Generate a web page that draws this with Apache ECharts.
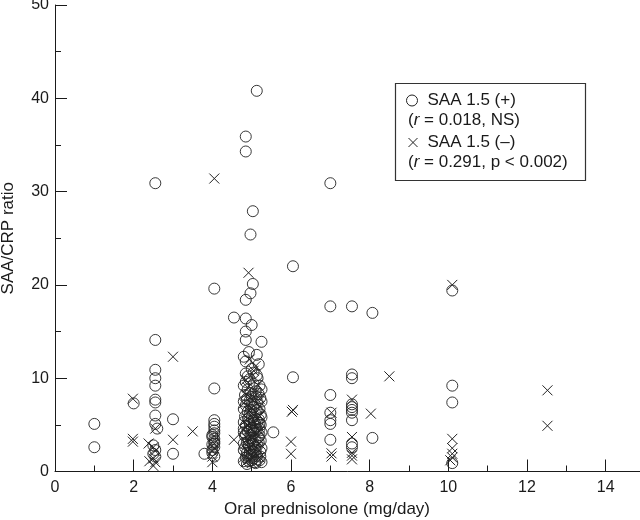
<!DOCTYPE html>
<html>
<head>
<meta charset="utf-8">
<script src="https://cdn.jsdelivr.net/npm/echarts@6/dist/echarts.min.js"></script>
<style>html,body{margin:0;padding:0;background:#fff}#c{width:640px;height:520px}</style>
</head>
<body>
<div id="c"></div>
<script>
// SAA 1.5 (+) points: [oral prednisolone mg/day, SAA/CRP ratio]
var saaPos = [
  [1.0,5.1],[1.0,2.6],[2.0,7.3],
  [2.55,30.9],[2.55,14.1],[2.55,10.9],[2.55,10.0],[2.55,9.2],[2.55,7.7],[2.55,7.4],[2.55,6.0],[2.55,5.1],[2.6,4.6],[2.5,2.8],[2.55,2.3],[2.5,1.9],[2.55,1.6],
  [3.0,5.6],[3.0,1.9],[3.8,1.9],
  [4.05,19.6],[4.05,8.9],[4.05,5.5],[4.05,5.1],[4.05,4.8],[4.05,4.4],[4.0,3.9],[4.05,3.5],[4.05,3.2],[4.0,2.9],[4.05,2.6],[4.0,2.3],
  [4.05,4.1],[4.0,3.7],[4.05,3.0],[4.0,2.0],[4.05,1.6],
  [4.55,16.5],
  [5.13,40.8],[4.85,35.9],[4.85,34.3],[5.03,27.9],[4.97,25.4],[5.03,20.1],[4.97,19.1],[4.85,18.4],[4.85,16.4],[5.0,15.7],[4.85,15.0],[4.85,14.1],[5.25,13.9],[4.93,12.8],[5.13,12.5],[4.85,11.8],[5.0,11.0],[5.13,10.3],[4.9,10.2],
  [4.85,9.6],[5.05,9.4],[5.2,9.2],[4.9,8.8],[5.1,8.6],[4.83,8.2],[5.0,8.0],[5.22,7.9],[4.95,7.6],[5.15,7.4],[4.85,7.1],[5.05,6.9],[5.2,6.7],[4.9,6.4],[5.1,6.2],[4.83,5.9],[5.0,5.8],[5.18,5.6],[4.93,5.4],[5.08,5.2],[5.23,5.0],[4.85,4.9],[5.0,4.7],[5.13,4.5],[4.9,4.3],[5.05,4.1],[5.2,3.9],[4.83,3.8],[4.98,3.6],[5.1,3.4],[5.23,3.3],[4.88,3.1],[5.03,2.9],[5.15,2.8],[4.83,2.6],[4.95,2.4],[5.1,2.3],[5.22,2.1],[4.88,2.0],[5.0,1.8],[5.13,1.7],[4.85,1.5],[5.05,1.4],[5.2,1.2],[4.93,1.1],[5.1,0.9],
  [4.95,9.9],[5.18,8.3],[4.88,7.8],[5.08,7.2],[4.98,6.6],[5.23,6.1],[4.9,5.6],[5.15,5.3],[4.95,5.1],[5.05,4.4],[4.85,4.0],[5.18,3.7],[4.93,3.3],[5.08,2.6],[4.9,1.7],[5.15,1.3],
  [4.8,9.2],[5.25,8.8],[4.97,8.4],[5.12,8.0],[4.8,7.5],[5.25,7.5],[5.0,7.2],[4.8,6.7],[5.13,6.6],[4.95,6.2],[5.25,5.8],[4.8,5.3],[5.05,5.5],[5.2,5.2],[4.8,4.6],[4.95,4.5],[5.2,4.6],[5.1,4.8],[4.8,4.2],[4.97,3.9],[5.25,4.2],[5.03,3.2],[4.8,3.0],[5.18,3.1],[4.93,2.8],[5.25,2.5],[4.8,2.3],[5.05,2.1],[4.95,1.9],[5.22,1.6],[4.8,1.1],[5.0,1.2],[5.25,1.0],[5.08,1.0],[4.88,0.8],[5.15,10.0],[4.85,10.5],[5.05,10.6],[4.8,12.3],[5.18,11.5],
  [5.55,4.2],
  [6.05,22.0],[6.05,10.1],
  [7.0,30.9],[7.0,17.7],[7.0,8.2],[7.0,6.3],[7.0,5.5],[7.0,5.1],[7.0,3.4],
  [7.55,17.7],[7.55,10.4],[7.55,10.0],[7.55,7.2],[7.55,6.9],[7.55,6.6],[7.55,6.3],[7.55,5.5],[7.55,3.0],[7.55,2.6],
  [8.07,17.0],[8.07,3.6],
  [10.1,19.4],[10.1,9.2],[10.1,7.4],[10.1,0.9]
];
// SAA 1.5 (-) points
var saaNeg = [
  [1.98,7.8],[1.98,3.5],[1.98,3.2],[2.38,3.0],[2.4,1.1],[2.55,4.6],[2.5,2.6],[2.55,2.2],[2.5,1.4],[2.55,1.0],[2.5,0.6],
  [3.0,12.3],[3.0,3.4],[3.5,4.3],
  [4.05,31.4],[4.0,1.6],[4.0,1.0],[4.05,3.0],[4.05,2.5],[4.0,2.2],[4.05,3.8],
  [4.55,3.4],
  [4.92,21.3],[4.8,1.5],[5.0,0.9],[4.9,9.0],[5.1,8.5],[4.85,8.3],[5.0,7.8],[5.2,7.0],[4.93,6.5],[5.05,6.0],[4.85,5.5],[5.15,5.0],[4.98,4.6],[5.1,4.0],[4.9,3.5],[5.2,3.0],[5.0,2.7],[4.88,2.2],[5.1,1.9],[4.95,1.3],[5.05,10.8],[4.95,12.0],
  [4.85,9.8],[5.15,9.3],[5.2,7.8],[4.8,7.3],[5.0,6.8],[5.2,6.0],[4.9,5.0],[5.05,5.2],[4.8,4.5],[5.2,4.3],[5.0,3.6],[4.85,3.0],[5.15,2.4],[4.95,2.0],[5.2,1.5],[4.85,1.0],[5.1,11.3],
  [6.05,6.6],[6.02,6.4],[6.0,3.2],[6.0,1.9],
  [7.03,6.3],[7.03,1.95],[7.03,1.6],
  [7.55,7.7],[7.55,3.7],[7.55,2.0],[7.55,1.7],[7.55,1.3],
  [8.03,6.2],[8.5,10.2],
  [10.1,20.0],[10.1,3.5],[10.1,2.5],[10.1,1.9],[10.1,1.5],[10.05,1.2],
  [12.52,8.7],[12.52,4.9]
];
var seriesNames = ['SAA 1.5 (+)', 'SAA 1.5 (\u2013)'];
var statLines = ['({i|r} = 0.018, NS)', '({i|r} = 0.291, p < 0.002)'];
var xTitle = 'Oral prednisolone (mg/day)';
var yTitle = 'SAA/CRP ratio';

var FONT = '"Liberation Sans", Arial, Helvetica, sans-serif';
var INK = '#1a1a1a';
var chart = echarts.init(document.getElementById('c'));
chart.setOption({
  animation: false,
  backgroundColor: '#fff',
  grid: { left: 55, top: 5, width: 590, height: 466.5, containLabel: false, outerBoundsMode: 'none' },
  xAxis: [{
    type: 'value', position: 'bottom', min: 0, max: 15, interval: 2,
    name: xTitle, nameLocation: 'middle', nameGap: 29,
    nameTextStyle: { fontFamily: FONT, fontSize: 17, color: INK, padding: [0, 46, 0, 0] },
    axisLine: { show: true, lineStyle: { color: INK, width: 1 } },
    axisTick: { show: true, inside: true, length: 12, lineStyle: { color: INK, width: 1 } },
    axisLabel: { fontFamily: FONT, fontSize: 16, color: INK, margin: 8, showMaxLabel: false },
    splitLine: { show: false }
  }, {
    type: 'value', position: 'bottom', min: 0, max: 15, interval: 1,
    axisLine: { show: false },
    axisTick: { show: true, inside: true, length: 6, lineStyle: { color: INK, width: 1 } },
    axisLabel: { show: false },
    splitLine: { show: false }
  }],
  yAxis: {
    type: 'value', min: 0, max: 50, interval: 10,
    name: yTitle, nameLocation: 'middle', nameGap: 38,
    nameTextStyle: { fontFamily: FONT, fontSize: 17, color: INK },
    axisLine: { show: true, lineStyle: { color: INK, width: 1 } },
    axisTick: { show: true, inside: true, length: 12, lineStyle: { color: INK, width: 1 } },
    minorTick: { show: true, splitNumber: 2, length: 6, lineStyle: { color: INK, width: 1 } },
    axisLabel: { fontFamily: FONT, fontSize: 16, color: INK, margin: 6 },
    splitLine: { show: false }, minorSplitLine: { show: false }
  },
  legend: [{
    data: [seriesNames[0]], left: 406, top: 92, padding: 0, selectedMode: false,
    itemWidth: 11, itemHeight: 11,
    itemStyle: { borderWidth: 1 },
    textStyle: { fontFamily: FONT, fontSize: 17, color: INK, padding: [0, 0, 0, 5] }
  }, {
    data: [seriesNames[1]], left: 408, top: 134, padding: 0, selectedMode: false,
    itemWidth: 9, itemHeight: 9,
    itemStyle: { borderWidth: 1 },
    textStyle: { fontFamily: FONT, fontSize: 17, color: INK, padding: [0, 0, 0, 5] }
  }],
  graphic: [
    { type: 'rect', z: 1, shape: { x: 395.5, y: 83.5, width: 190, height: 97 },
      style: { fill: 'none', stroke: '#333', lineWidth: 1.2 } },
    { type: 'text', z: 2, x: 408, y: 120,
      style: { text: statLines[0], font: '17px ' + FONT, fill: INK, verticalAlign: 'middle',
        rich: { i: { fontStyle: 'italic', fontSize: 17, fontFamily: FONT, fill: INK } } } },
    { type: 'text', z: 2, x: 408, y: 162,
      style: { text: statLines[1], font: '17px ' + FONT, fill: INK, verticalAlign: 'middle',
        rich: { i: { fontStyle: 'italic', fontSize: 17, fontFamily: FONT, fill: INK } } } }
  ],
  series: [{
    name: seriesNames[0], type: 'scatter', data: saaPos, symbol: 'circle', symbolSize: 11,
    xAxisIndex: 0, yAxisIndex: 0,
    itemStyle: { color: 'rgba(0,0,0,0)', borderColor: '#222', borderWidth: 0.9, opacity: 1 },
    emphasis: { disabled: true }
  }, {
    name: seriesNames[1], type: 'scatter', data: saaNeg, symbol: 'path://M0,0L10,10M10,0L0,10', symbolSize: 10,
    xAxisIndex: 0, yAxisIndex: 0,
    itemStyle: { color: 'rgba(0,0,0,0)', borderColor: '#222', borderWidth: 1, opacity: 1 },
    emphasis: { disabled: true }
  }]
});
</script>
</body>
</html>
